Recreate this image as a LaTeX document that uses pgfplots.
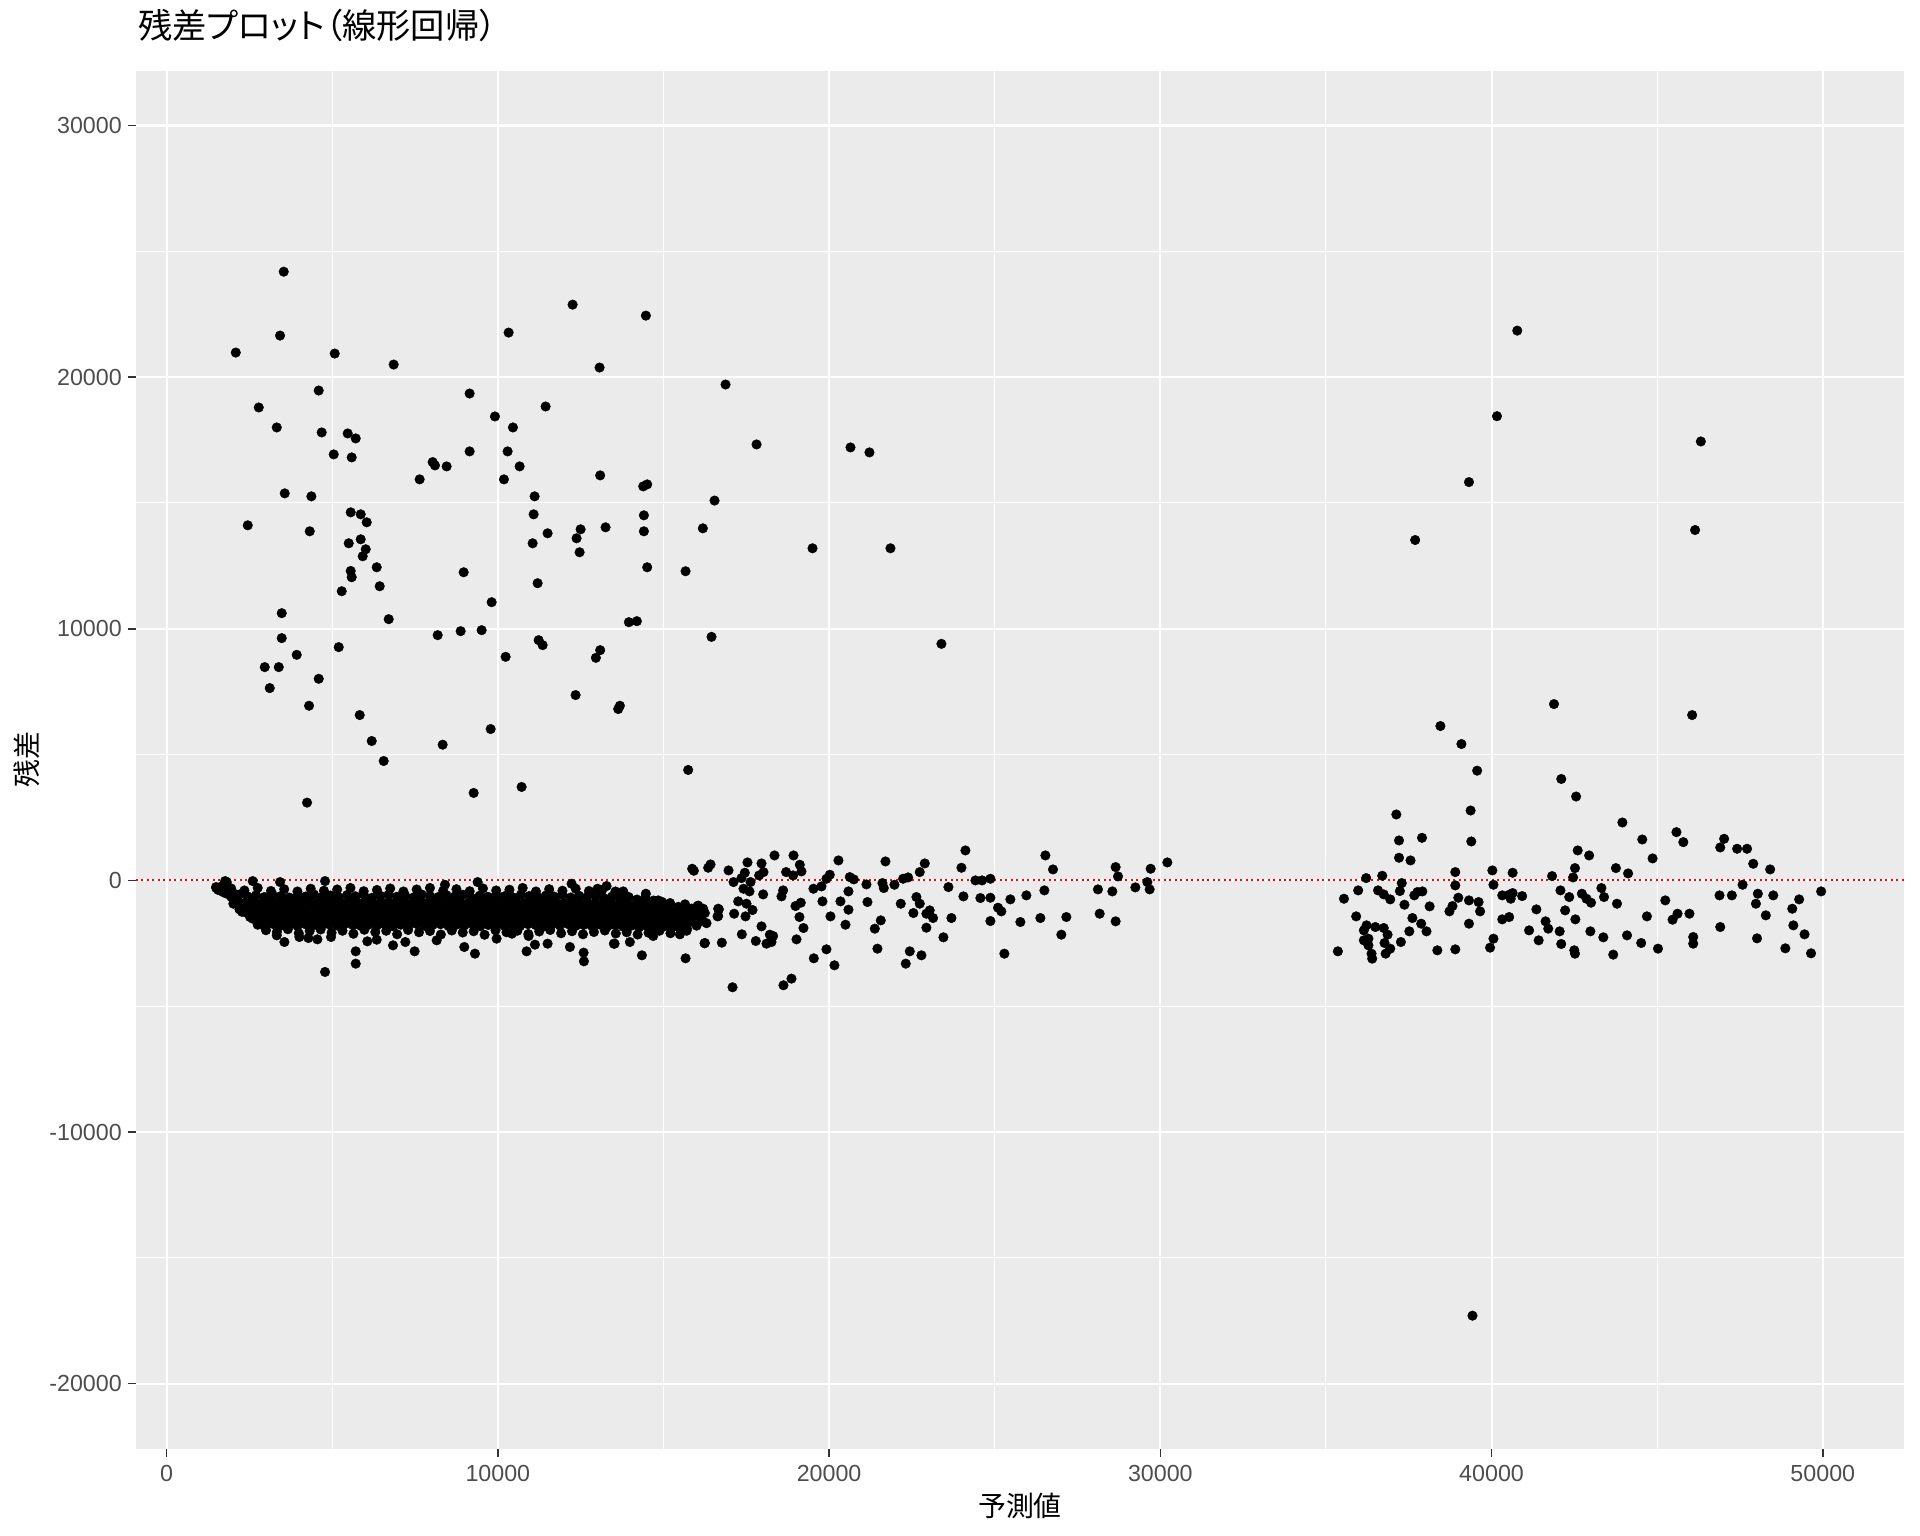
\documentclass[border=0pt]{standalone}
\usepackage{fontspec}
\setmainfont{Liberation Sans}
\newfontfamily\jp[RawFeature=+palt]{Noto Sans CJK JP}
\usepackage{pgfplots}
\pgfplotsset{compat=1.18}
\definecolor{panelbg}{HTML}{EBEBEB}
\definecolor{ticktext}{HTML}{4D4D4D}
\definecolor{tickline}{HTML}{333333}
\pgfplotsset{pt/.style={only marks, mark=*, mark size=3.6bp, black,
    mark options={fill=black, draw=black, line width=0.3bp}}}
\begin{document}
\begin{tikzpicture}
% page frame: 1920x1536 px at 0.75bp/px, panel south west at origin
\path (-102bp,-65.25bp) rectangle (1338bp,1086.75bp);
\begin{axis}[
  scale only axis, width=1326bp, height=1033.5bp,
  xmin=-924, xmax=52452, ymin=-22595, ymax=32167,
  scaled x ticks=false, scaled y ticks=false,
  axis background/.style={fill=panelbg},
  axis x line*=bottom, axis y line*=left,
  axis line style={draw=none},
  tick align=outside, major tick length=6bp, minor tick length=0pt,
  tick style={tickline, line width=1.1bp},
  xtick={0,10000,20000,30000,40000,50000},
  xticklabels={0,10000,20000,30000,40000,50000},
  ytick={-20000,-10000,0,10000,20000,30000},
  yticklabels={-20000,-10000,0,10000,20000,30000},
  minor xtick={5000,15000,25000,35000,45000},
  minor ytick={-15000,-5000,5000,15000,25000},
  grid=both,
  major grid style={white, line width=1.6bp},
  minor grid style={white, line width=0.8bp},
  ticklabel style={font=\fontsize{17.5}{20}\selectfont, text=ticktext},
  xticklabel style={anchor=north, inner sep=0pt, yshift=-6bp},
  yticklabel style={anchor=east, inner sep=0pt, xshift=-4.5bp},
  title={\jp 残差プロット（線形回帰）},
  title style={at={(axis description cs:0.0011,1.0275)}, anchor=west, inner sep=0pt, font=\fontsize{25.8}{29}\selectfont},
  xlabel={\jp 予測値},
  xlabel style={at={(axis description cs:0.5,-0.0414)}, anchor=center, inner sep=0pt, font=\fontsize{21}{24}\selectfont},
  ylabel={\jp 残差},
  ylabel style={at={(axis description cs:-0.0617,0.5)}, anchor=center, inner sep=0pt, font=\fontsize{21}{24}\selectfont},
]
% large positive residuals, low predictions
\addplot[pt] coordinates {
(3536,24190) (3425,21651) (2088,20976) (5075,20937) (6855,20500) (12257,22881)
(14469,22444) (10325,21770) (13071,20381) (4592,19468) (9148,19349) (2782,18794)
(11442,18833) (9912,18437) (3325,18000) (10456,18000) (4682,17802) (5467,17762)
(5709,17564) (5045,16929) (5588,16810) (9148,17048) (10295,17048) (8032,16623)
(8102,16492) (8454,16452) (10658,16452) (7639,15937) (10184,15937) (13090,16095)
(14389,15659) (14509,15738) (3566,15381) (4371,15262) (11110,15262) (5558,14627)
(5860,14548) (6041,14230) (11080,14548) (2450,14111) (4321,13873) (11502,13794)
(12498,13952) (12377,13595) (13252,14032) (14409,14508) (14409,13873) (12468,13040)
(5498,13397) (5860,13555) (6011,13159) (5920,12881) (11050,13397) (6343,12444)
(5558,12298) (5588,12048) (8968,12246) (11201,11810) (14509,12444) (6433,11690)
(5287,11492) (9813,11056) (3476,10619) (6705,10381) (13956,10262) (14197,10302)
(3476,9627) (8183,9746) (8877,9905) (9511,9944) (11231,9548) (11352,9349)
(13090,9150) (12960,8845) (5196,9270) (3928,8964) (2963,8476) (3386,8476)
(4593,8012) (3114,7643) (10235,8885) (4300,6941) (5830,6571) (12347,7365)
(13684,6941) (13634,6810) (6192,5540) (8334,5393) (9783,6016) (6554,4746)
(4240,3091) (9270,3476) (10718,3714)
(16874,19706) (17810,17325) (20646,17206) (21219,17008) (16542,15095) (16189,13992)
(19500,13198) (21853,13198) (15667,12286) (16451,9679) (23392,9401) (15746,4389)
};
% large residuals, high predictions
\addplot[pt] coordinates {
(40776,21848) (40163,18448) (46318,17443) (39318,15829) (46144,13924) (37693,13527)
(41885,7007) (46055,6571) (38456,6135) (39090,5420) (39565,4361) (42105,4031)
(42553,3334) (39424,-17297)
};
% main band, rows
\addplot[pt] coordinates {
(2200,-560) (2450,-640) (2700,-590) (2950,-660) (3200,-570) (3450,-620) (3700,-680)
(3950,-590) (4200,-640) (4450,-560) (4700,-650) (4950,-600) (5200,-670) (5450,-580)
(5700,-630) (5950,-560) (6200,-690) (6450,-610) (6700,-570) (6950,-650) (7200,-600)
(7450,-680) (7700,-560) (7950,-620) (8200,-660) (8450,-590) (8700,-640) (8950,-570)
(9200,-690) (9450,-610) (9700,-650) (9950,-580) (10200,-630) (10450,-670) (10700,-560)
(10950,-620) (11200,-660) (11450,-600) (11700,-640) (11950,-570) (12200,-680) (12450,-610)
(12700,-650) (12950,-590) (13200,-700) (13450,-640) (13700,-720) (13950,-660) (14200,-760)
(14450,-700) (14700,-800) (14950,-850)
(2150,-830) (2390,-880) (2630,-820) (2870,-900) (3110,-840) (3350,-870) (3590,-810)
(3830,-890) (4070,-850) (4310,-820) (4550,-900) (4790,-860) (5030,-830) (5270,-890)
(5510,-840) (5750,-870) (5990,-820) (6230,-900) (6470,-850) (6710,-880) (6950,-820)
(7190,-860) (7430,-900) (7670,-830) (7910,-870) (8150,-840) (8390,-890) (8630,-820)
(8870,-860) (9110,-900) (9350,-840) (9590,-870) (9830,-820) (10070,-890) (10310,-850)
(10550,-830) (10790,-900) (11030,-860) (11270,-820) (11510,-880) (11750,-850) (11990,-900)
(12230,-830) (12470,-870) (12710,-910) (12950,-860) (13190,-930) (13430,-880) (13670,-950)
(13910,-900) (14150,-980) (14390,-930) (14630,-1000) (14870,-960) (15110,-1050)
(2300,-1060) (2540,-1110) (2780,-1040) (3020,-1100) (3260,-1070) (3500,-1120) (3740,-1050)
(3980,-1090) (4220,-1130) (4460,-1060) (4700,-1100) (4940,-1040) (5180,-1080) (5420,-1120)
(5660,-1060) (5900,-1100) (6140,-1050) (6380,-1130) (6620,-1070) (6860,-1090) (7100,-1040)
(7340,-1110) (7580,-1080) (7820,-1050) (8060,-1120) (8300,-1070) (8540,-1100) (8780,-1040)
(9020,-1130) (9260,-1080) (9500,-1060) (9740,-1110) (9980,-1070) (10220,-1120) (10460,-1050)
(10700,-1090) (10940,-1130) (11180,-1060) (11420,-1100) (11660,-1040) (11900,-1120) (12140,-1080)
(12380,-1110) (12620,-1060) (12860,-1140) (13100,-1090) (13340,-1150) (13580,-1110) (13820,-1170)
(14060,-1130) (14300,-1190) (14540,-1150) (14780,-1210) (15020,-1170) (15260,-1240) (15500,-1200)
(15740,-1270) (15980,-1230)
(2420,-1290) (2660,-1340) (2900,-1280) (3140,-1330) (3380,-1300) (3620,-1350) (3860,-1280)
(4100,-1320) (4340,-1360) (4580,-1290) (4820,-1330) (5060,-1270) (5300,-1320) (5540,-1350)
(5780,-1290) (6020,-1330) (6260,-1280) (6500,-1360) (6740,-1300) (6980,-1320) (7220,-1270)
(7460,-1340) (7700,-1310) (7940,-1280) (8180,-1350) (8420,-1300) (8660,-1330) (8900,-1270)
(9140,-1360) (9380,-1310) (9620,-1290) (9860,-1340) (10100,-1300) (10340,-1350) (10580,-1280)
(10820,-1320) (11060,-1360) (11300,-1290) (11540,-1330) (11780,-1270) (12020,-1350) (12260,-1310)
(12500,-1340) (12740,-1290) (12980,-1370) (13220,-1320) (13460,-1380) (13700,-1340) (13940,-1400)
(14180,-1360) (14420,-1420) (14660,-1380) (14900,-1440) (15140,-1400) (15380,-1460) (15620,-1420)
(15860,-1490) (16100,-1450)
(2600,-1520) (2840,-1570) (3080,-1510) (3320,-1560) (3560,-1530) (3800,-1580) (4040,-1510)
(4280,-1550) (4520,-1590) (4760,-1520) (5000,-1560) (5240,-1500) (5480,-1550) (5720,-1580)
(5960,-1520) (6200,-1560) (6440,-1510) (6680,-1590) (6920,-1530) (7160,-1550) (7400,-1500)
(7640,-1570) (7880,-1540) (8120,-1510) (8360,-1580) (8600,-1530) (8840,-1560) (9080,-1500)
(9320,-1590) (9560,-1540) (9800,-1520) (10040,-1570) (10280,-1530) (10520,-1580) (10760,-1510)
(11000,-1550) (11240,-1590) (11480,-1520) (11720,-1560) (11960,-1500) (12200,-1580) (12440,-1540)
(12680,-1570) (12920,-1520) (13160,-1600) (13400,-1550) (13640,-1610) (13880,-1570) (14120,-1630)
(14360,-1590) (14600,-1650) (14840,-1610) (15080,-1670) (15320,-1630) (15560,-1690) (15800,-1650)
(2750,-1760) (2990,-1800) (3230,-1740) (3470,-1790) (3710,-1760) (3950,-1810) (4190,-1740)
(4430,-1780) (4670,-1820) (4910,-1750) (5150,-1790) (5390,-1730) (5630,-1780) (5870,-1810)
(6110,-1750) (6350,-1790) (6590,-1740) (6830,-1820) (7070,-1760) (7310,-1780) (7550,-1730)
(7790,-1800) (8030,-1770) (8270,-1740) (8510,-1810) (8750,-1760) (8990,-1790) (9230,-1730)
(9470,-1820) (9710,-1770) (9950,-1750) (10190,-1800) (10430,-1760) (10670,-1810) (10910,-1740)
(11150,-1780) (11390,-1820) (11630,-1750) (11870,-1790) (12110,-1730) (12350,-1810) (12590,-1770)
(12830,-1800) (13070,-1750) (13310,-1830) (13550,-1780) (13790,-1840) (14030,-1800) (14270,-1860)
(14510,-1820) (14750,-1880) (14990,-1840) (15230,-1900) (15470,-1860) (15710,-1920)
(3000,-1980) (3330,-2050) (3660,-1940) (3990,-2100) (4320,-2010) (4650,-1950) (4980,-2080)
(5310,-2000) (5640,-2120) (5970,-1960) (6300,-2050) (6630,-2000) (6960,-2140) (7290,-1970)
(7620,-2060) (7950,-2010) (8280,-2150) (8610,-1990) (8940,-2070) (9270,-2020) (9600,-2160)
(9930,-1980) (10260,-2060) (10590,-2000) (10920,-2130) (11250,-2030) (11580,-1970) (11910,-2100)
(12240,-2020) (12570,-2140) (12900,-2050) (13230,-1990) (13560,-2110) (13890,-2060) (14220,-2150)
(14550,-2080) (14880,-2000) (15210,-2100)
};
% main band, edges and stragglers
\addplot[pt] coordinates {
(1950,-320) (2350,-400) (2750,-300) (3150,-420) (3550,-350) (3950,-440) (4350,-330)
(4750,-410) (5150,-360) (5550,-300) (5950,-430) (6350,-380) (6750,-320) (7150,-440)
(7550,-360) (7950,-300) (8350,-410) (8750,-350) (9150,-430) (9550,-320) (9950,-400)
(10350,-370) (10750,-300) (11150,-440) (11550,-350) (11950,-410) (12350,-330) (12750,-420)
(13150,-380) (13550,-440)
(1500,-300) (1560,-380) (1640,-250) (1700,-460) (1800,-520) (1880,-400) (1950,-650)
(2020,-780) (2100,-560) (2200,-1150) (2280,-1250)
(1494,-265) (1735,-397) (2016,-926) (2520,-1455)
(1765,-26) (1816,-66) (2600,-26) (4783,-26) (3425,-66) (9390,-66) (12226,-132)
(8404,-172) (13282,-225) (13011,-331) (13785,-437)
(13785,-463) (14469,-529) (14841,-794) (16030,-1019) (16199,-1125) (16652,-1125)
(16652,-1416) (15495,-2143) (14690,-2209) (13986,-2448) (13524,-2514) (16250,-2487)
(15200,-900) (15450,-1050) (15650,-950) (15850,-1120) (16050,-1000) (16250,-1300)
(15950,-1350) (16150,-1600) (15350,-1800) (15700,-2000) (16000,-1800) (15550,-1450)
(16300,-1700)
(4783,-3638) (5709,-2818) (5709,-3308) (3325,-2183) (3556,-2448) (2882,-1760)
(4008,-2249) (4280,-2289) (4552,-2342) (4964,-2249) (6060,-2421) (6343,-2355)
(6835,-2580) (7207,-2448) (7488,-2818) (8153,-2381) (8987,-2646) (9309,-2911)
(9963,-2315) (10426,-2117) (10868,-2818) (10929,-2209) (11120,-2553) (11502,-2514)
(12176,-2646) (12589,-2871) (12599,-3215) (13503,-2514) (14349,-2977)
};
% middle range
\addplot[pt] coordinates {
(15867,463) (15917,384) (16350,503) (16421,635) (16964,397) (17115,-66) (17356,93)
(17456,304) (17537,714) (17628,-66) (17416,-331) (17597,-437) (17960,675) (18020,331)
(17888,198) (18352,992) (18926,992) (19116,622) (19166,357) (18703,331) (18914,198)
(18010,-556) (18613,-397) (18563,-635) (17255,-833) (17507,-926) (17688,-1177) (17477,-1429)
(17134,-1323) (16672,-1151) (16632,-1429) (17960,-1826) (17366,-2143) (16762,-2474)
(16240,-2500) (15667,-3096) (17085,-4247) (17788,-2408) (18211,-2156) (18311,-2209)
(18110,-2514) (18261,-2447) (19016,-2342) (19227,-1892) (19106,-1455) (18986,-1019)
(19146,-886) (19528,-331) (19770,-238) (19800,-833) (19921,66) (20021,225) (20283,794)
(20042,-1429) (19538,-3096) (19921,-2739) (20162,-3374) (18623,-4167) (18865,-3903)
(20344,-833) (20585,-437) (20585,-1164) (20495,-1760) (20625,132) (20746,40) (21128,-159)
(21159,-860) (21702,754) (21611,-106) (21652,-304) (21973,-172) (21560,-1588) (21380,-1918)
(21460,-2712) (22164,-926) (22234,66) (22385,119) (22737,331) (22888,675) (22637,-661)
(22737,-926) (22546,-1296) (23038,-1191) (22938,-1323) (23139,-1495) (22938,-1879)
(22436,-2818) (22315,-3308) (22788,-2977) (23452,-2262) (23603,-265) (23694,-1495)
(23996,503) (24116,1191) (24056,-635) (24418,0) (24618,0) (24870,66) (24568,-701)
(24870,-688) (25100,-1085) (25200,-1230) (24870,-1614) (25292,-2911) (25473,-754)
(25775,-1654) (25956,-595) (26530,992) (26760,437) (26500,-397) (26379,-1495) (27163,-1455)
(27012,-2156) (28117,-357) (28169,-1323) (28551,-437) (28651,-1627) (28651,529)
(28722,159) (29246,-278) (29608,-66) (29678,-357) (29708,463) (30212,714)
};
% high range cluster
\addplot[pt] coordinates {
(37125,2620) (37206,1588) (37206,900) (37553,794) (37900,1693) (39367,2778) (39388,1548)
(36214,93) (36700,185) (37288,-106) (37232,-423) (35544,-728) (35973,-397) (35913,-1429)
(35360,-2818) (36573,-397) (36745,-556) (36941,-754) (36225,-1786) (36144,-1985)
(36491,-1852) (36745,-1892) (36860,-2156) (36144,-2381) (36283,-2315) (36283,-2580)
(36769,-2487) (36941,-2712) (36376,-2911) (36397,-3109) (36802,-2911) (37263,-2448)
(37517,-2024) (37610,-1495) (37875,-1720) (38036,-2024) (37370,-966) (37668,-595)
(37762,-463) (37910,-437) (38130,-1032) (38363,-2778) (38729,-1230) (38820,-1019)
(38905,331) (38905,-198) (38996,-688) (38905,-2739) (39318,-794) (39608,-860)
(39654,-1230) (39318,-1720) (40024,397) (40057,-172) (39955,-2672) (40057,-2315)
(40323,-595) (40531,-569) (40636,-503) (40578,-728) (40923,-622) (40636,304)
(40323,-1548) (40531,-1455) (41133,-1985) (41422,-2381) (41353,-1151) (41630,-1627)
(41711,-1918) (41826,172) (42056,-2024) (42103,-2527) (42080,-397) (42345,-661)
(42221,-1191) (42462,119) (42518,490) (42600,1191) (42530,-1548) (42497,-2778)
(42518,-2911) (42727,-529) (42865,-728) (43003,-886) (42946,992) (42983,-2024)
(43316,-304) (43395,-661) (43374,-2262) (43673,-2950) (43754,490) (43787,-926)
(43950,2302) (44122,278) (44089,-2183) (44517,-2487) (44550,1627) (44690,-1429)
(44861,873) (45024,-2712) (45245,-794) (45464,-1561) (45614,-1323) (45582,1918)
(45789,1521) (45974,-1323) (46088,-2249) (46088,-2514) (46882,-595) (46904,-1852)
(46904,1310) (47021,1654) (47254,-595) (47413,1257) (47713,1257) (47578,-172)
(47900,661) (48039,-529) (47981,-926) (48280,-1389) (48014,-2302) (48410,437)
(48505,-595) (48869,-2699) (49078,-1125) (49111,-1786) (49286,-754) (49448,-2143)
(49645,-2897) (49950,-437)
};
% zero line
\addplot[red, line width=1.5bp, dash pattern=on 1.5bp off 2.6bp, no marks, sharp plot]
  coordinates {(-924,0) (52452,0)};
\end{axis}
\end{tikzpicture}
\end{document}
